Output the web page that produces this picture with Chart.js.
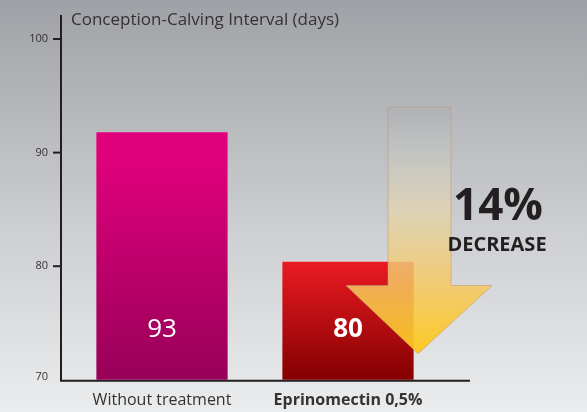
<!DOCTYPE html>
<html>
<head>
<meta charset="utf-8">
<script src="https://cdn.jsdelivr.net/npm/chart.js@4.4.1/dist/chart.umd.min.js"></script>
<style>
  html, body { margin: 0; padding: 0; }
  #wrap { width: 587px; height: 412px; position: relative; }
</style>
</head>
<body>
<div id="wrap"><canvas id="chart"></canvas></div>
<script>
// chart data
const categories = ['Without treatment', 'Eprinomectin 0,5%'];
const intervalDays = [91.8, 80.4];
const valueLabels = ['93', '80'];
const yTicks = [70, 80, 90, 100];
const axisTitle = 'Conception-Calving Interval (days)';
const decreaseText = ['14%', 'DECREASE'];

const FONT = '"Open Sans", sans-serif';
const INK = '#231f20';

// gradient fill per bar, top -> bottom
function barGradient(context) {
  const chart = context.chart;
  const area = chart.chartArea;
  if (!area) return null;
  const g = chart.ctx.createLinearGradient(0, area.top, 0, area.bottom);
  if (context.dataIndex === 0) {
    g.addColorStop(0, '#e6007e');
    g.addColorStop(0.35, '#e0007c');
    g.addColorStop(1, '#980058');
  } else {
    g.addColorStop(0, '#f02028');
    g.addColorStop(0.64, '#ee1c24');
    g.addColorStop(1, '#840000');
  }
  return g;
}

const decorPlugin = {
  id: 'decor',
  beforeDraw(chart) {
    const { ctx, width, height } = chart;
    const g = ctx.createLinearGradient(0, 0, 0, height);
    g.addColorStop(0, '#9fa1a6');
    g.addColorStop(0.55, '#cdced1');
    g.addColorStop(1, '#ebeced');
    ctx.save();
    ctx.fillStyle = g;
    ctx.fillRect(0, 0, width, height);
    ctx.restore();
  },
  beforeDatasetsDraw(chart) {
    const { ctx, chartArea } = chart;
    const y = chart.scales.y;
    const axisX = chartArea.left - 8;
    ctx.save();
    ctx.strokeStyle = INK;
    ctx.lineWidth = 2;
    ctx.beginPath();
    ctx.moveTo(axisX, 15);
    ctx.lineTo(axisX, chartArea.bottom + 1);
    ctx.lineTo(470, chartArea.bottom + 1);
    ctx.stroke();

    ctx.fillStyle = '#333';
    ctx.font = '11px ' + FONT;
    ctx.textAlign = 'right';
    ctx.textBaseline = 'middle';
    yTicks.forEach(v => {
      const py = y.getPixelForValue(v);
      if (v !== yTicks[0]) {
        ctx.beginPath();
        ctx.moveTo(axisX - 8, py);
        ctx.lineTo(axisX, py);
        ctx.stroke();
        ctx.fillText(String(v), axisX - 13, py);
      } else {
        ctx.fillText(String(v), axisX - 13, py - 3);
      }
    });

    ctx.textAlign = 'left';
    ctx.font = '17px ' + FONT;
    ctx.fillStyle = '#333';
    ctx.fillText(axisTitle, axisX + 10, 20);
    ctx.restore();
  },
  afterDatasetsDraw(chart) {
    const { ctx, chartArea } = chart;
    const meta = chart.getDatasetMeta(0);
    ctx.save();
    ctx.fillStyle = '#fff';
    ctx.textAlign = 'center';
    ctx.textBaseline = 'middle';
    meta.data.forEach((bar, i) => {
      ctx.font = (i === 1 ? 'bold ' : '') + '26px ' + FONT;
      ctx.fillText(valueLabels[i], bar.x, chartArea.bottom - 50);
    });

    // down arrow next to the second bar
    const y = chart.scales.y;
    const bx = meta.data[1].x;
    const top = y.getPixelForValue(94);
    const neck = y.getPixelForValue(78.3);
    const tip = y.getPixelForValue(72.3);
    const sL = bx + 40, sR = bx + 103, hL = bx - 2, hR = bx + 144, tx = bx + 70;
    const ag = ctx.createLinearGradient(0, top, 0, tip);
    ag.addColorStop(0, 'rgba(172,174,178,0.55)');
    ag.addColorStop(0.18, 'rgba(196,198,196,0.7)');
    ag.addColorStop(0.42, 'rgba(226,212,176,0.8)');
    ag.addColorStop(0.72, 'rgba(246,200,96,0.85)');
    ag.addColorStop(1, 'rgba(253,200,24,0.95)');
    ctx.fillStyle = ag;
    ctx.strokeStyle = 'rgba(190,150,120,0.55)';
    ctx.lineWidth = 1;
    ctx.beginPath();
    ctx.moveTo(sL, top);
    ctx.lineTo(sR, top);
    ctx.lineTo(sR, neck);
    ctx.lineTo(hR, neck);
    ctx.lineTo(tx, tip);
    ctx.lineTo(hL, neck);
    ctx.lineTo(sL, neck);
    ctx.closePath();
    ctx.fill();
    ctx.stroke();

    ctx.fillStyle = INK;
    ctx.font = 'bold 44px ' + FONT;
    ctx.fillText(decreaseText[0], bx + 150, y.getPixelForValue(85.2));
    ctx.font = 'bold 20px ' + FONT;
    ctx.fillText(decreaseText[1], bx + 149, y.getPixelForValue(81.8));
    ctx.restore();
  }
};

new Chart(document.getElementById('chart'), {
  type: 'bar',
  data: {
    labels: categories,
    datasets: [{
      data: intervalDays,
      backgroundColor: barGradient,
      borderWidth: 0,
      barPercentage: 0.84,
      categoryPercentage: 0.84
    }]
  },
  options: {
    responsive: true,
    maintainAspectRatio: false,
    animation: false,
    layout: { padding: { left: 69, right: 146, top: 39, bottom: -9 } },
    plugins: { legend: { display: false }, tooltip: { enabled: false } },
    scales: {
      x: {
        grid: { display: false, drawTicks: false },
        border: { display: false },
        ticks: {
          padding: 11,
          color: '#333',
          font: ctx => ({ family: FONT, size: 16, weight: ctx.index === 1 ? 'bold' : 'normal' })
        }
      },
      y: { display: false, min: 70, max: 100 }
    }
  },
  plugins: [decorPlugin]
});
</script>
</body>
</html>
